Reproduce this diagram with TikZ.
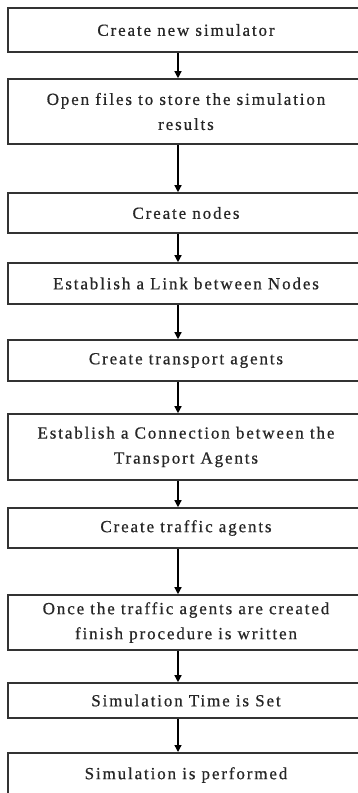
\documentclass[tikz,border=0pt]{standalone}
\usepackage{fontspec}
\setmainfont{Liberation Serif}[LetterSpace=11,FakeBold=0.6]
\usetikzlibrary{arrows.meta}
\begin{document}
\begin{tikzpicture}[x=1pt,y=-1pt,
  stepbox/.style={draw=black!80, line width=1.6pt, rectangle, minimum width=356pt,
    inner sep=0pt, align=center, font=\fontsize{17}{25}\selectfont, text=black!85},
  arr/.style={draw=black, line width=1.3pt, -{Triangle[width=7pt,length=7pt]}}]
\useasboundingbox (0,0) rectangle (358,793);
\clip (0,0) rectangle (358,793);
\fill[white] (0,0) rectangle (358,793);
\coordinate (ax) at (178,0);
\node[stepbox, minimum height=44pt] (b1) at (186,30) {Create new simulator};
\node[stepbox, minimum height=65pt] (b2) at (186,111.5) {Open files to store the simulation\\results};
\node[stepbox, minimum height=40pt] (b3) at (186,213) {Create nodes};
\node[stepbox, minimum height=41pt] (b4) at (186,283.5) {Establish a Link between Nodes};
\node[stepbox, minimum height=41pt] (b5) at (186,360.5) {Create transport agents};
\node[stepbox, minimum height=66pt] (b6) at (186,447) {Establish a Connection between the\\Transport Agents};
\node[stepbox, minimum height=40pt] (b7) at (186,528) {Create traffic agents};
\node[stepbox, minimum height=55pt] (b8) at (186,622.5) {Once the traffic agents are created\\finish procedure is written};
\node[stepbox, minimum height=35pt] (b9) at (186,700.5) {Simulation Time is Set};
\node[stepbox, minimum height=60pt, anchor=north] (b10) at (186,752) {};
\node[font=\fontsize{17}{25}\selectfont, text=black!85, inner sep=0pt] (t10) at (186,775) {Simulation is performed};
\draw[arr] (b1.south -| ax) -- (b2.north -| ax);
\draw[arr] (b2.south -| ax) -- (b3.north -| ax);
\draw[arr] (b3.south -| ax) -- (b4.north -| ax);
\draw[arr] (b4.south -| ax) -- (b5.north -| ax);
\draw[arr] (b5.south -| ax) -- (b6.north -| ax);
\draw[arr] (b6.south -| ax) -- (b7.north -| ax);
\draw[arr] (b7.south -| ax) -- (b8.north -| ax);
\draw[arr] (b8.south -| ax) -- (b9.north -| ax);
\draw[arr] (b9.south -| ax) -- (b10.north -| ax);
\end{tikzpicture}
\end{document}
